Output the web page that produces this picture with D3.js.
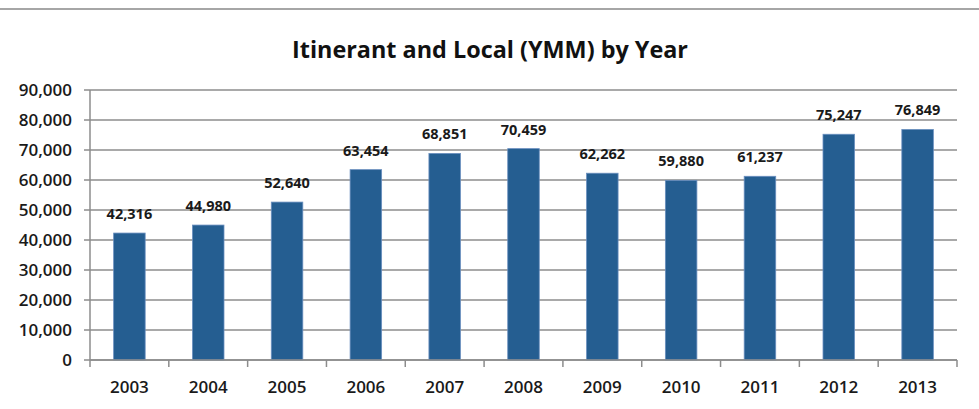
<!DOCTYPE html>
<html>
<head>
<meta charset="utf-8">
<script src="https://cdn.jsdelivr.net/npm/d3@7"></script>
<style>
  body { margin: 0; background: #fff; }
  svg { display: block; }
</style>
</head>
<body>
<div id="chart"></div>
<script>
const years = ['2003','2004','2005','2006','2007','2008','2009','2010','2011','2012','2013'];
const values = [42316, 44980, 52640, 63454, 68851, 70459, 62262, 59880, 61237, 75247, 76849];
const yTicks = [0, 10000, 20000, 30000, 40000, 50000, 60000, 70000, 80000, 90000];

const width = 979, height = 409;
const margin = {top: 90, right: 22, bottom: 49, left: 90};
const ctrWidth = width - margin.left - margin.right;
const ctrHeight = height - margin.top - margin.bottom;

const svg = d3.select('#chart').append('svg')
  .attr('width', width).attr('height', height);

// top border line
svg.append('line')
  .attr('x1', 0).attr('x2', width)
  .attr('y1', 9).attr('y2', 9)
  .attr('stroke', '#a6a6a6').attr('stroke-width', 2);

svg.append('text')
  .attr('x', 490).attr('y', 58)
  .attr('text-anchor', 'middle')
  .attr('font-family', '"Open Sans", sans-serif')
  .attr('font-weight', 'bold')
  .attr('font-size', 24)
  .attr('textLength', 396)
  .attr('lengthAdjust', 'spacingAndGlyphs')
  .attr('fill', '#111')
  .text('Itinerant and Local (YMM) by Year');

const ctr = svg.append('g')
  .attr('transform', `translate(${margin.left}, ${margin.top})`);

const xScale = d3.scaleBand().domain(years).range([0, ctrWidth]).paddingInner(0.6).paddingOuter(0.3);
const xBand = d3.scaleBand().domain(years).range([0, ctrWidth]);
const yScale = d3.scaleLinear().domain([0, 90000]).range([ctrHeight, 0]);

// gridlines
ctr.append('g')
  .selectAll('line')
  .data(yTicks)
  .join('line')
  .attr('x1', -6).attr('x2', ctrWidth)
  .attr('y1', d => yScale(d)).attr('y2', d => yScale(d))
  .attr('stroke', '#8c8c8c').attr('stroke-width', 1.5);

// y axis labels
ctr.append('g')
  .selectAll('text')
  .data(yTicks)
  .join('text')
  .attr('x', -18)
  .attr('y', d => yScale(d))
  .attr('dy', '0.36em')
  .attr('text-anchor', 'end')
  .attr('font-family', '"Open Sans", sans-serif')
  .attr('font-weight', 600)
  .attr('font-size', 17)
  .attr('fill', '#1a1a1a')
  .text(d => d3.format(',')(d));

// bars
ctr.selectAll('rect.bar')
  .data(values)
  .join('rect')
  .attr('class', 'bar')
  .attr('x', (d, i) => xScale(years[i]))
  .attr('y', d => yScale(d))
  .attr('width', xScale.bandwidth())
  .attr('height', d => ctrHeight - yScale(d))
  .attr('fill', '#255e91')
  .attr('stroke', '#6a8fbf').attr('stroke-width', 0.8);

// data labels
ctr.selectAll('text.lbl')
  .data(values)
  .join('text')
  .attr('class', 'lbl')
  .attr('x', (d, i) => xScale(years[i]) + xScale.bandwidth() / 2)
  .attr('y', d => yScale(d) - 14)
  .attr('text-anchor', 'middle')
  .attr('font-family', '"Open Sans", sans-serif')
  .attr('font-weight', 'bold')
  .attr('font-size', 14.5)
  .attr('fill', '#1a1a1a')
  .text(d => d3.format(',')(d));

// axis lines
ctr.append('line')
  .attr('x1', 0).attr('x2', 0).attr('y1', 0).attr('y2', ctrHeight)
  .attr('stroke', '#8c8c8c').attr('stroke-width', 1.5);
ctr.append('line')
  .attr('x1', 0).attr('x2', ctrWidth).attr('y1', ctrHeight).attr('y2', ctrHeight)
  .attr('stroke', '#8c8c8c').attr('stroke-width', 1.5);

// x ticks
ctr.append('g')
  .selectAll('line')
  .data(years.concat(['end']))
  .join('line')
  .attr('x1', (d, i) => i * xBand.step()).attr('x2', (d, i) => i * xBand.step())
  .attr('y1', ctrHeight).attr('y2', ctrHeight + 7)
  .attr('stroke', '#8c8c8c').attr('stroke-width', 1.5);

ctr.append('g')
  .selectAll('text')
  .data(years)
  .join('text')
  .attr('x', d => xBand(d) + xBand.bandwidth() / 2)
  .attr('y', ctrHeight + 33)
  .attr('text-anchor', 'middle')
  .attr('font-family', '"Open Sans", sans-serif')
  .attr('font-weight', 600)
  .attr('font-size', 17)
  .attr('fill', '#1a1a1a')
  .text(d => d);
</script>
</body>
</html>
